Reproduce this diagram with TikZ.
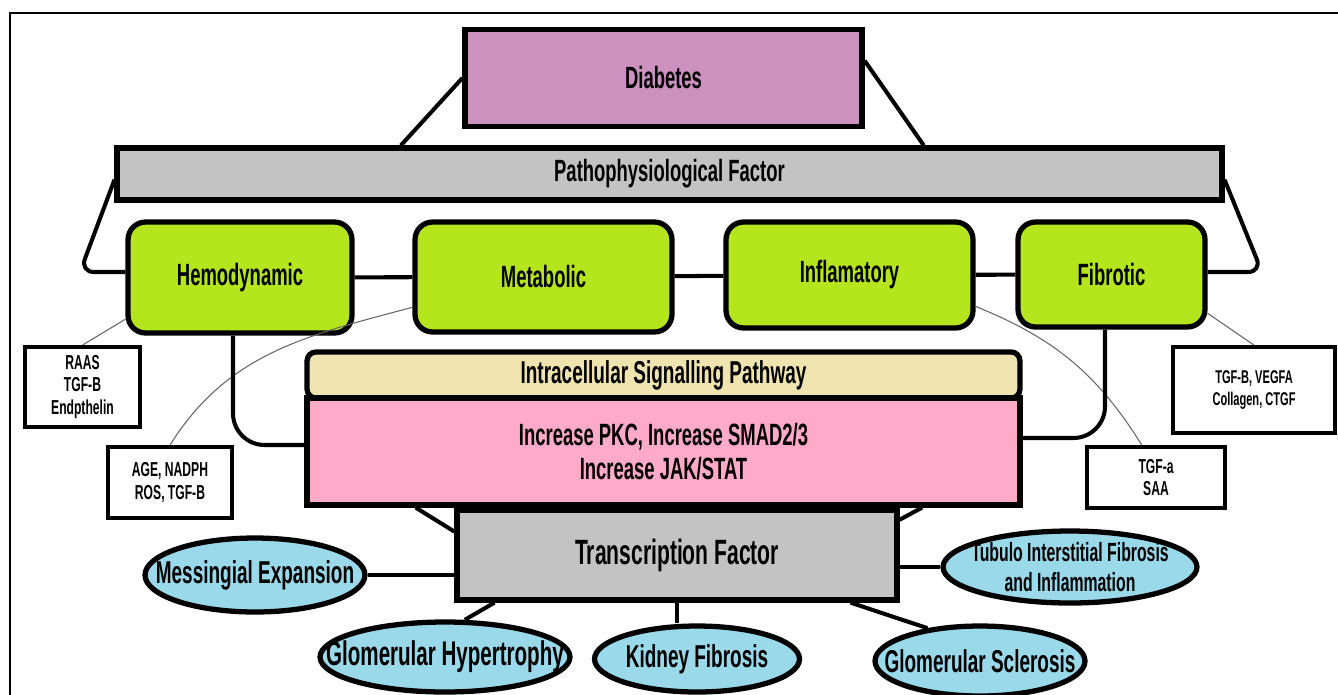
\documentclass[tikz,border=0pt]{standalone}
\usepackage{fontspec}
\setmainfont{Liberation Sans}[FakeStretch=0.6]
\usetikzlibrary{shapes.geometric,calc}

\definecolor{diabpink}{RGB}{205,145,192}
\definecolor{bargray}{RGB}{195,195,195}
\definecolor{factgreen}{RGB}{181,230,29}
\definecolor{pathbeige}{RGB}{239,228,176}
\definecolor{signpink}{RGB}{255,170,200}
\definecolor{ovalblue}{RGB}{153,217,234}

\begin{document}
\begin{tikzpicture}[x=0.02cm, y=-0.02cm,
    box/.style={draw, line width=3pt, align=center, font=\bfseries\fontsize{17.5}{19}\selectfont},
    factor/.style={box, rounded corners=10pt, fill=factgreen},
    note/.style={draw, line width=2.2pt, fill=white, align=center, font=\bfseries\fontsize{11.5}{13}\selectfont},
    oval/.style={ellipse, draw, line width=3pt, fill=ovalblue, inner sep=0pt},
    ovaltext/.style={align=center, font=\bfseries\fontsize{18}{18}\selectfont},
    link/.style={line width=2.3pt},
    hint/.style={line width=0.6pt, black!60}]

    % --- page size and frame ---
    \useasboundingbox (0,0) rectangle (1338,694);
    \draw[line width=1.6pt] (10,700) -- (10,13) -- (1345,13);

    % --- 1. top: diabetes and pathophysiological factor ---
    \node[box, fill=diabpink, minimum width=7.94cm, minimum height=1.94cm] (diab) at (663.5,78) {Diabetes};
    \node[box, fill=bargray, minimum width=22.1cm, minimum height=1.04cm] (path) at (669.5,174) {Pathophysiological Factor};

    \draw[link] (diab.west) -- ($(path.north west)!.258!(path.north east)$);
    \draw[link] ($(diab.north east)!.33!(diab.south east)$) -- ($(path.north west)!.729!(path.north east)$);

    % --- 2. the four factors ---
    \node[factor, minimum width=4.48cm, minimum height=2.22cm] (hemo) at (240,277.5) {Hemodynamic};
    \node[factor, minimum width=5.14cm, minimum height=2.2cm] (meta) at (543.5,277) {Metabolic};
    \node[factor, minimum width=4.94cm, minimum height=2.12cm] (infl) at (849.5,275) {Inflamatory};
    \node[factor, minimum width=3.74cm, minimum height=2.1cm] (fibr) at (1111.5,274.5) {Fibrotic};

    \draw[link] (hemo) -- (meta);
    \draw[link] (meta) -- (infl);
    \draw[link] (infl) -- (fibr);
    \draw[link, rounded corners=8pt] ($(path.north west)!.6!(path.south west)$) -- (80,272) -- (hemo.west |- 0,272);
    \draw[link, rounded corners=8pt] ($(path.north east)!.6!(path.south east)$) -- (1262,272) -- (fibr.east |- 0,272);

    % --- 3. mediators of each factor ---
    \node[note, minimum width=2.3cm, minimum height=1.6cm] (raas) at (82.5,387) {RAAS\\TGF-B\\Endpthelin};
    \node[note, minimum width=2.48cm, minimum height=1.42cm] (age) at (170,482.5) {AGE, NADPH\\ROS, TGF-B};
    \node[note, font=\bfseries\fontsize{10.5}{13}\selectfont, minimum width=3.24cm, minimum height=1.72cm] (vegf) at (1254,390) {TGF-B, VEGFA\\Collagen, CTGF};
    \node[note, minimum width=2.76cm, minimum height=1.22cm] (tgfa) at (1156,477.5) {TGF-a\\SAA};

    \draw[hint] (hemo.200) -- (raas.north);
    \draw[hint] (meta.193) to[out=195, in=58] (age.north);
    \draw[hint] (infl.-14) to[out=-22, in=122] ($(tgfa.north west)!.4!(tgfa.north east)$);
    \draw[hint] (fibr.-22) -- (vegf.north);

    % --- 4. intracellular signalling ---
    \node[box, fill=pathbeige, rounded corners=5pt, font=\bfseries\fontsize{18}{19}\selectfont, minimum width=14.26cm, minimum height=0.92cm] (intra) at (663.5,375) {Intracellular Signalling Pathway};
    \node[box, fill=signpink, minimum width=14.26cm, minimum height=2.14cm] (pink) at (663.5,451.5) {Increase PKC, Increase SMAD2/3\\Increase JAK/STAT};

    \draw[link, rounded corners=18pt] (hemo.south -| 233,0) -- (233,445) -- (pink.west |- 0,445);
    \draw[link, rounded corners=18pt] (fibr.south -| 1105,0) -- (1105,438) -- (pink.east |- 0,438);

    % --- 5. transcription factor and outcomes ---
    \node[box, fill=bargray, font=\bfseries\fontsize{20}{22}\selectfont, minimum width=8.8cm, minimum height=1.8cm] (tf) at (677,555) {Transcription Factor};

    \draw[link] ($(pink.south west)!.155!(pink.south east)$) -- (tf.174);
    \draw[link] ($(pink.south west)!.86!(pink.south east)$) -- (tf.9);

    \node[oval, minimum width=4.4cm, minimum height=1.48cm, label={[ovaltext]center:Messingial Expansion}] (mess) at (255,575) {};
    \node[oval, minimum width=5.08cm, minimum height=1.44cm, label={[ovaltext, font=\bfseries\fontsize{15}{17}\selectfont]center:Tubulo Interstitial Fibrosis\\and Inflammation}] (tubu) at (1070,567) {};
    \node[oval, minimum width=5cm, minimum height=1.4cm, label={[ovaltext, font=\bfseries\fontsize{19.5}{20}\selectfont]center:Glomerular Hypertrophy}] (ghyp) at (445,657) {};
    \node[oval, minimum width=4.1cm, minimum height=1.32cm, label={[ovaltext]center:Kidney Fibrosis}] (kid) at (697,659) {};
    \node[oval, minimum width=4.2cm, minimum height=1.4cm, label={[ovaltext]center:Glomerular Sclerosis}] (gscl) at (980,661) {};

    \draw[link] (mess.east) -- (mess.east -| tf.west);
    \draw[link] (tubu.west -| tf.east) -- (tubu.west);
    \draw[link] ($(tf.south west)!.09!(tf.south east)$) -- (ghyp.62);
    \draw[link] (tf.south) -- (kid.north -| tf.south);
    \draw[link] ($(tf.south west)!.89!(tf.south east)$) -- (gscl.148);

\end{tikzpicture}
\end{document}
